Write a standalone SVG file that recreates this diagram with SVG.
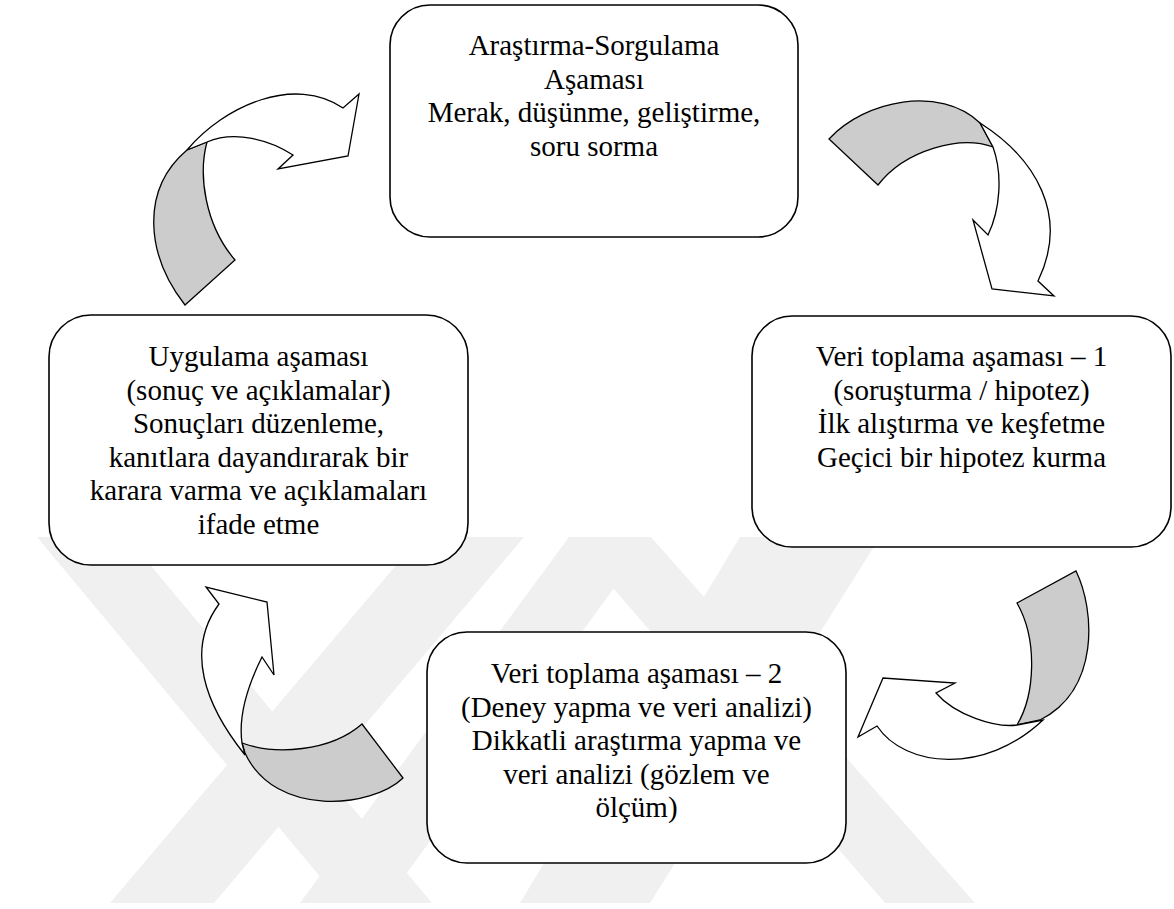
<svg xmlns="http://www.w3.org/2000/svg" width="1174" height="909" viewBox="0 0 1174 909">
<style>
.wm{fill:#f0f0f0;stroke:none}
.box{fill:#ffffff;stroke:#000000;stroke-width:1.6}
.arw{fill:#ffffff;stroke:#000000;stroke-width:1.3;stroke-linejoin:miter}
.shade{fill:#cccccc;stroke:#000000;stroke-width:1.3;stroke-linejoin:miter}
.lbl{font-size:29px;fill:#000000;text-anchor:middle}
</style>
<rect width="1174" height="909" fill="#ffffff"/>
<g id="watermark">
<polygon class="wm" points="37,537 127,537 432,903 342,903"/>
<polygon class="wm" points="420,537 524,537 214,903 110,903"/>
<polygon class="wm" points="569,537 651,537 385,903 300,903"/>
<polygon class="wm" points="569,537 651,537 975,903 885,903"/>
<polygon class="wm" points="740,537 880,537 650,903 520,903"/>
</g>
<g id="connectors">
<g id="arrow-box2-to-box1">
<path class="shade" d="M185,305 C146,255 140,190 187,150 L207,142 C198,175 205,225 235,260 Z"/>
<path class="arw" d="M187,150 C225,105 295,75 343,108 L359,94 L348,156 L278,169 L293,155 C270,140 235,130 207,142 Z"/>
</g>
<g id="arrow-box1-to-box3">
<path class="shade" d="M829,139 C865,100 940,85 980,123 L993,147 C960,135 905,150 878,185 Z"/>
<path class="arw" d="M980,123 C1035,158 1070,215 1038,281 L1054,296 L992,289 L973,220 L988,235 C1000,210 1003,175 993,147 Z"/>
</g>
<g id="arrow-box3-to-box4">
<path class="shade" d="M1017,603 L1076,571 C1095,610 1100,690 1040,720 L1017,725 C1035,695 1038,640 1017,603 Z"/>
<path class="arw" d="M1017,725 C995,728 955,715 936,693 L955,683 L883,678 L858,737 L877,726 C905,768 985,775 1043,720 Z"/>
</g>
<g id="arrow-box4-to-box2">
<path class="shade" d="M242,743 C275,755 330,752 362,724 L403,778 C372,808 275,818 245,753 Z"/>
<path class="arw" d="M245,755 C205,705 185,650 219,604 L206,587 L267,602 L274,675 L262,657 C248,685 238,715 242,743 Z"/>
</g>
</g>
<g font-family="'Liberation Serif', 'DejaVu Serif', serif">
<g id="box1">
<rect class="box" x="390" y="5" width="408" height="232" rx="40" ry="40"/>
<text class="lbl" x="594" y="55">Araştırma-Sorgulama</text>
<text class="lbl" x="594" y="88.5">Aşaması</text>
<text class="lbl" x="594" y="122">Merak, düşünme, geliştirme,</text>
<text class="lbl" x="594" y="155.5">soru sorma</text>
</g>
<g id="box2">
<rect class="box" x="49" y="315" width="419" height="250" rx="42" ry="42"/>
<text class="lbl" x="258.5" y="366">Uygulama aşaması</text>
<text class="lbl" x="258.5" y="399.5">(sonuç ve açıklamalar)</text>
<text class="lbl" x="258.5" y="433">Sonuçları düzenleme,</text>
<text class="lbl" x="258.5" y="466.5">kanıtlara dayandırarak bir</text>
<text class="lbl" x="258.5" y="500">karara varma ve açıklamaları</text>
<text class="lbl" x="258.5" y="533.5">ifade etme</text>
</g>
<g id="box3">
<rect class="box" x="752" y="316" width="419" height="231" rx="40" ry="40"/>
<text class="lbl" x="961.5" y="366">Veri toplama aşaması – 1</text>
<text class="lbl" x="961.5" y="399.5">(soruşturma / hipotez)</text>
<text class="lbl" x="961.5" y="433">İlk alıştırma ve keşfetme</text>
<text class="lbl" x="961.5" y="466.5">Geçici bir hipotez kurma</text>
</g>
<g id="box4">
<rect class="box" x="427" y="632" width="419" height="231" rx="40" ry="40"/>
<text class="lbl" x="636.5" y="683">Veri toplama aşaması – 2</text>
<text class="lbl" x="636.5" y="716.5">(Deney yapma ve veri analizi)</text>
<text class="lbl" x="636.5" y="750">Dikkatli araştırma yapma ve</text>
<text class="lbl" x="636.5" y="783.5">veri analizi (gözlem ve</text>
<text class="lbl" x="636.5" y="817">ölçüm)</text>
</g>
</g>
</svg>
